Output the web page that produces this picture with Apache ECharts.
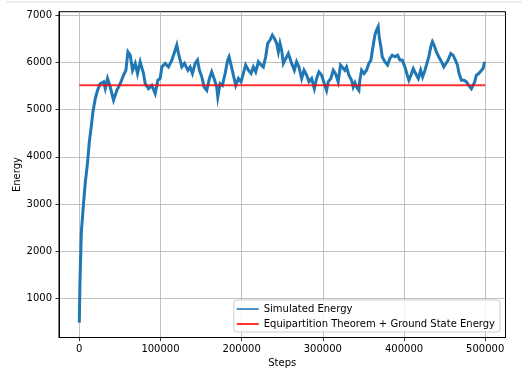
<!DOCTYPE html>
<html>
<head>
<meta charset="utf-8">
<script src="https://cdn.jsdelivr.net/npm/echarts@6/dist/echarts.min.js"></script>
<style>
html,body{margin:0;padding:0;background:#fff;}
#chart{width:522px;height:377px;}
</style>
</head>
<body>
<div id="chart"></div>
<script>
const simSteps = [0,800,2500,5300,7400,10200,12300,14400,16800,19700,22500,25800,30000,32000,34800,38100,42200,46300,50400,54500,57400,59900,62700,65600,68900,71700,75000,79100,81200,85300,89400,93500,96800,99600,101700,105800,109900,114000,118100,120100,122200,126300,129600,133700,136500,139400,142700,145600,148000,150900,153800,157000,160300,163100,166000,169300,170600,173400,176300,179600,182800,184500,187000,189800,192700,196000,199200,202000,204900,208300,211600,214400,217300,220600,223900,226700,229600,232100,235000,237800,240300,243100,245200,247200,249300,251300,253400,257500,259500,261600,264900,267700,270600,273900,276800,280100,282900,286200,289500,292300,295200,298500,301700,304600,306600,309900,312800,315600,318900,321800,324200,327100,329200,332100,335400,337400,339500,341500,344400,345600,347700,350800,353800,356700,359200,362100,364100,366200,368200,369400,371500,373100,376400,379700,382600,385500,388800,392100,394900,397800,401100,404000,406000,408500,411400,414300,417600,420500,422900,425700,427600,430500,433000,435000,437000,439900,442800,446100,449000,451400,454300,457600,460400,463300,465800,467800,470700,474000,476800,479700,483000,485000,487100,489100,492000,494400,497300,499300];
const simEnergy = [490,1330,2400,3030,3460,3885,4310,4600,4950,5235,5410,5550,5590,5450,5660,5480,5200,5410,5550,5730,5835,6225,6155,5835,5980,5765,6015,5765,5550,5445,5515,5340,5625,5660,5905,5980,5905,6050,6260,6370,6190,5905,5980,5835,5905,5765,5980,6050,5835,5695,5480,5410,5660,5800,5660,5480,5270,5555,5515,5765,6050,6120,5945,5730,5515,5660,5590,5765,5945,5835,5765,5905,5800,6015,5945,5905,6120,6405,6475,6580,6510,6405,6225,6405,6260,5980,6050,6190,6155,5980,5835,6015,5905,5660,5835,5730,5590,5660,5445,5660,5800,5730,5555,5410,5590,5660,5835,5765,5590,5945,5905,5835,5905,5730,5625,5480,5570,5480,5410,5625,5835,5765,5835,5980,6050,6370,6580,6685,6760,6545,6335,6120,6015,5945,6085,6155,6120,6155,6050,6050,5905,5730,5625,5730,5870,5765,5660,5835,5695,5830,5835,6120,6335,6440,6370,6225,6120,6015,5905,5945,6050,6190,6155,6050,5945,5765,5625,5625,5590,5515,5445,5410,5590,5730,5765,5800,5870,6015];
const refSteps = [0, 500000];
const refEnergy = [5515, 5515];
const xTicks = [0, 100000, 200000, 300000, 400000, 500000];
const yTicks = [1000, 2000, 3000, 4000, 5000, 6000, 7000];
const seriesNames = ['Simulated Energy', 'Equipartition Theorem + Ground State Energy'];

const FONT = 'DejaVu Sans';
const chart = echarts.init(document.getElementById('chart'), null, {renderer: 'canvas'});
const axisCommon = {
  axisLine: {show: true, onZero: false, lineStyle: {color: '#000', width: 1}},
  axisTick: {show: true, inside: false, length: 3.5, lineStyle: {color: '#000', width: 0.8}},
  splitLine: {show: true, lineStyle: {color: '#b0b0b0', width: 0.8}},
  nameTextStyle: {fontFamily: FONT, fontSize: 10, color: '#000'},
  nameMoveOverlap: false
};
const plain = v => String(v);
chart.setOption({
  animation: false,
  backgroundColor: '#fff',
  graphic: [{type: 'line', shape: {x1: 6, y1: 2, x2: 522, y2: 2}, style: {stroke: '#dcdcdc', lineWidth: 1}}],
  grid: {left: 59, right: 16.5, top: 11.7, bottom: 39.5, containLabel: false, outerBoundsMode: 'none',
         show: true, borderColor: '#000', borderWidth: 1, backgroundColor: 'transparent'},
  xAxis: Object.assign({}, axisCommon, {
    type: 'value', min: -25000, max: 525000,
    name: 'Steps', nameLocation: 'middle', nameGap: 21,
    axisTick: Object.assign({}, axisCommon.axisTick, {customValues: xTicks}),
    axisLabel: {customValues: xTicks, formatter: plain, margin: 7, fontFamily: FONT, fontSize: 10, color: '#000'}
  }),
  yAxis: Object.assign({}, axisCommon, {
    type: 'value', min: 175, max: 7075,
    name: 'Energy', nameLocation: 'middle', nameGap: 37,
    axisTick: Object.assign({}, axisCommon.axisTick, {customValues: yTicks}),
    axisLabel: {customValues: yTicks, formatter: plain, margin: 7, fontFamily: FONT, fontSize: 10, color: '#000'}
  }),
  legend: {
    orient: 'vertical', right: 22, bottom: 45,
    itemWidth: 22, itemHeight: 10, itemGap: 5,
    padding: [4, 5, 3, 3],
    backgroundColor: 'rgba(255,255,255,0.8)', borderColor: '#cccccc', borderWidth: 1, borderRadius: 3,
    textStyle: {fontFamily: FONT, fontSize: 10, color: '#000'},
    data: [
      {name: seriesNames[0], icon: 'path://M0,0L22,0L22,2L0,2Z', itemStyle: {color: '#1f77b4', opacity: 0.8}},
      {name: seriesNames[1], icon: 'path://M0,0L22,0L22,2L0,2Z', itemStyle: {color: '#ff0000', opacity: 0.8}}
    ]
  },
  series: [
    {name: seriesNames[0], type: 'line', symbol: 'none', z: 2,
     data: simSteps.map((s, i) => [s, simEnergy[i]]),
     lineStyle: {color: '#1f77b4', width: 3, join: 'miter'}, itemStyle: {color: '#1f77b4'}},
    {name: seriesNames[1], type: 'line', symbol: 'none', z: 3,
     data: refSteps.map((s, i) => [s, refEnergy[i]]),
     lineStyle: {color: '#ff0000', width: 2, opacity: 0.8}, itemStyle: {color: '#ff0000'}}
  ]
});
</script>
</body>
</html>
